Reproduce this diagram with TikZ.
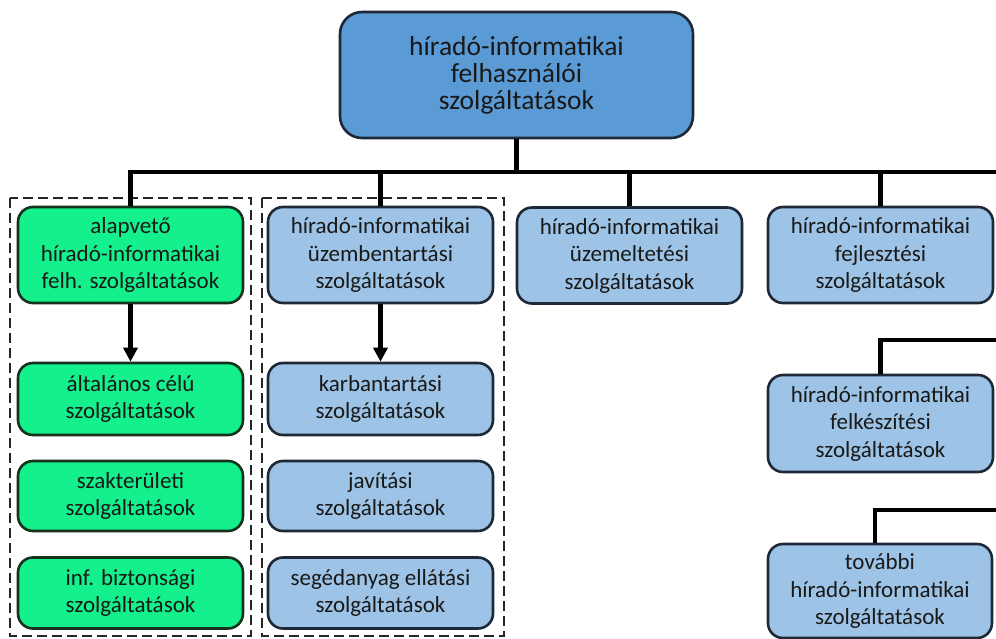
\documentclass[tikz,border=0pt]{standalone}
\usepackage{fontspec}
\setmainfont{Carlito}
\usetikzlibrary{arrows.meta}
\definecolor{topblue}{RGB}{91,155,213}
\definecolor{lightblue}{RGB}{157,195,230}
\definecolor{brightgreen}{RGB}{20,240,140}
\definecolor{edgeblue}{RGB}{30,40,55}
\definecolor{edgegreen}{RGB}{20,50,30}
\definecolor{txt}{RGB}{25,25,25}
\tikzset{
  box/.style={draw=edgeblue, line width=2.6pt, rounded corners=15pt, align=center,
    text=txt, inner sep=0pt, font=\fontsize{23}{27.5}\selectfont},
  bluebox/.style={box, fill=lightblue},
  greenbox/.style={box, fill=brightgreen, draw=edgegreen},
  topbox/.style={box, fill=topblue, rounded corners=22pt, font=\fontsize{27.5}{27}\selectfont},
  conn/.style={line width=4.8pt, black},
  arr/.style={conn, -{Triangle[length=14pt,width=14pt]}},
  group/.style={draw=black!85, line width=2.8pt, dash pattern=on 10pt off 5pt}
}
\begin{document}
\begin{tikzpicture}[x=1pt,y=-1pt]
\useasboundingbox (0,0) rectangle (996,639);
\fill[white] (0,0) rectangle (996,639);
% dashed groups
\draw[group] (10,198) rectangle (251,636);
\draw[group] (262,198) rectangle (504,636);
% nodes
\node[topbox, minimum width=353pt, minimum height=126pt] (top) at (516.5,75)
  {híradó-informatikai\\felhasználói\\szolgáltatások};
\node[greenbox, minimum width=225pt, minimum height=96pt] (a) at (130.5,255)
  {alapvető\\híradó-informatikai\\felh. szolgáltatások};
\node[bluebox, minimum width=225pt, minimum height=96pt] (b) at (380.5,255)
  {híradó-informatikai\\üzembentartási\\szolgáltatások};
\node[bluebox, minimum width=225pt, minimum height=96pt] (c) at (629.5,255.5)
  {híradó-informatikai\\üzemeltetési\\szolgáltatások};
\node[bluebox, minimum width=225pt, minimum height=96pt] (d) at (880.5,255)
  {híradó-informatikai\\fejlesztési\\szolgáltatások};
\node[greenbox, minimum width=225pt, minimum height=72pt] (a1) at (130.5,399)
  {általános célú\\szolgáltatások};
\node[greenbox, minimum width=225pt, minimum height=70pt] (a2) at (130.5,496)
  {szakterületi\\szolgáltatások};
\node[greenbox, minimum width=225pt, minimum height=71pt] (a3) at (130.5,593)
  {inf. biztonsági\\szolgáltatások};
\node[bluebox, minimum width=225pt, minimum height=72pt] (b1) at (380.5,399)
  {karbantartási\\szolgáltatások};
\node[bluebox, minimum width=225pt, minimum height=70pt] (b2) at (380.5,496)
  {javítási\\szolgáltatások};
\node[bluebox, minimum width=225pt, minimum height=71pt] (b3) at (380.5,593)
  {segédanyag ellátási\\szolgáltatások};
\node[bluebox, minimum width=225pt, minimum height=97pt] (e) at (880.5,423.5)
  {híradó-informatikai\\felkészítési\\szolgáltatások};
\node[bluebox, minimum width=224pt, minimum height=94pt] (f) at (880,591)
  {további\\híradó-informatikai\\szolgáltatások};
% bus
\coordinate (busL) at (130.5,172);
\coordinate (busR) at (998,172);
\coordinate (eR) at (998,340);
\coordinate (fR) at (998,510);
\draw[conn] (top.south) -- (top.south |- busL);
\draw[conn] ([xshift=-2.4pt]busL) -- (busR);
\draw[conn] (a.north |- busL) -- (a.north);
\draw[conn] (b.north |- busL) -- (b.north);
\draw[conn] (c.north |- busL) -- (c.north);
\draw[conn] (d.north |- busL) -- (d.north);
\draw[conn] (e.north) -- ([yshift=-2.4pt]e.north |- eR);
\draw[conn] ([xshift=-2.4pt]e.north |- eR) -- (eR);
\draw[conn] ([xshift=-5pt]f.north) -- ([xshift=-5pt,yshift=-2.4pt]f.north |- fR);
\draw[conn] ([xshift=-7.4pt]f.north |- fR) -- (fR);
% arrows
\draw[arr] (a.south) -- (a1.north);
\draw[arr] (b.south) -- (b1.north);
\end{tikzpicture}
\end{document}
